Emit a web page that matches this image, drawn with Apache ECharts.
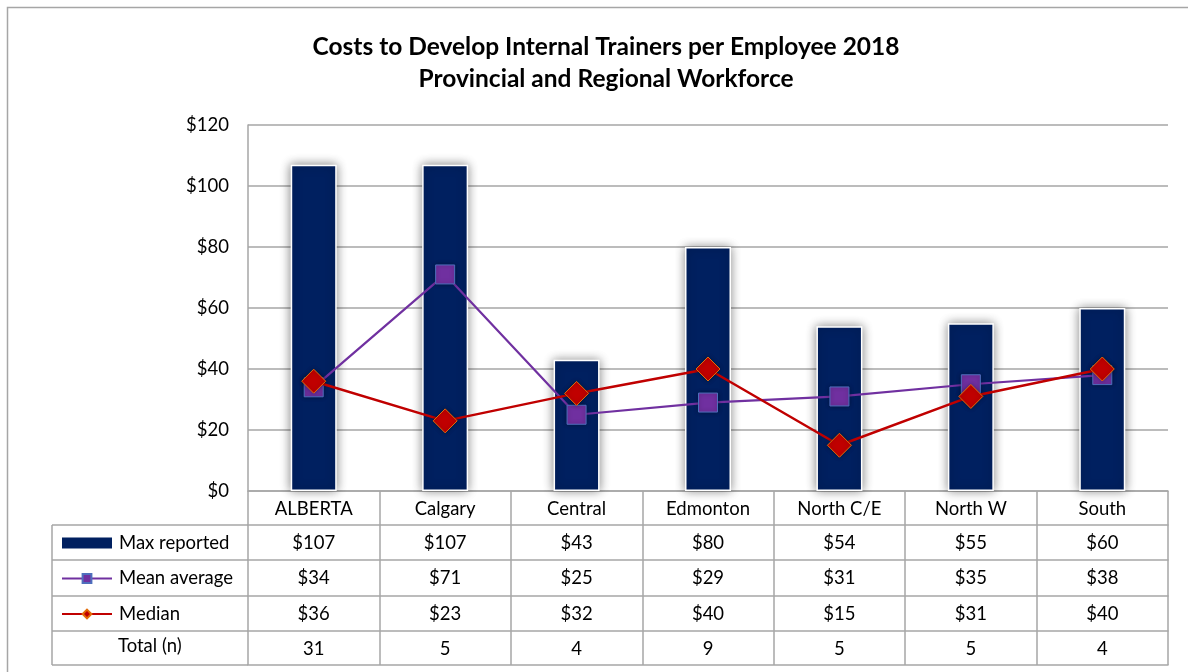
<!DOCTYPE html>
<html>
<head>
<meta charset="utf-8">
<title>Costs to Develop Internal Trainers per Employee 2018</title>
<script src="https://cdn.jsdelivr.net/npm/echarts@6/dist/echarts.min.js"></script>
<style>
    html, body { margin: 0; padding: 0; background: #fff; }
    #chart { width: 1188px; height: 672px; }
</style>
</head>
<body>
<div id="chart"></div>
<script>
// 数据
const regions = ['ALBERTA', 'Calgary', 'Central', 'Edmonton', 'North C/E', 'North W', 'South'];
const maxReported = [107, 107, 43, 80, 54, 55, 60];
const meanAverage = [34, 71, 25, 29, 31, 35, 38];
const median = [36, 23, 32, 40, 15, 31, 40];
const totalN = [31, 5, 4, 9, 5, 5, 4];
const yTicks = { min: 0, max: 120, interval: 20 };

const FONT = 'Lato, "Open Sans", sans-serif';
const FS = 18.5;
const LINE_GRAY = '#a6a6a6';
const TEXT = '#000';

// 表格行: 每行一个 x 轴, 用 offset 叠在图表下方
function tableAxis(offset, rowHeight, formatter, showLabel) {
    return {
        type: 'category',
        data: regions,
        position: 'bottom',
        offset: offset,
        axisLine: { show: true, lineStyle: { color: LINE_GRAY, width: 1.5 } },
        axisTick: { show: rowHeight > 0, length: rowHeight, lineStyle: { color: LINE_GRAY, width: 1.5 } },
        axisLabel: {
            show: showLabel,
            interval: 0,
            margin: 9,
            fontFamily: FONT,
            fontSize: FS,
            color: TEXT,
            formatter: formatter
        },
        splitLine: { show: false }
    };
}

const chart = echarts.init(document.getElementById('chart'));

// 左侧图例列的表格线
const rowTops = [525, 560, 596, 631, 665];
const tableLines = rowTops.map(function (y) {
    return { type: 'line', shape: { x1: 52, y1: y, x2: 248, y2: y }, style: { stroke: LINE_GRAY, lineWidth: 1.5 } };
});
tableLines.push({ type: 'line', shape: { x1: 52, y1: 525, x2: 52, y2: 665 }, style: { stroke: LINE_GRAY, lineWidth: 1.5 } });

const option = {
    backgroundColor: '#fff',
    animation: false,
    title: {
        text: 'Costs to Develop Internal Trainers per Employee 2018\nProvincial and Regional Workforce',
        left: 601,
        textAlign: 'center',
        top: 26,
        textStyle: { fontFamily: FONT, fontSize: 24.5, fontWeight: 'bold', color: TEXT, lineHeight: 32 }
    },
    legend: {
        orient: 'vertical',
        left: 61,
        top: 533,
        padding: 0,
        itemWidth: 50,
        itemHeight: 11,
        itemGap: 15.5,
        selectedMode: false,
        textStyle: { fontFamily: FONT, fontSize: FS, color: TEXT, lineHeight: 20, padding: [0, 0, 0, 2] },
        data: [
            { name: 'Max reported', icon: 'rect', itemStyle: { borderWidth: 0, shadowBlur: 0 } },
            { name: 'Mean average' },
            { name: 'Median' }
        ]
    },
    grid: { left: 248, right: 20, top: 125, bottom: 181 },
    xAxis: [
        tableAxis(0, 34, null, true),
        tableAxis(34, 35, function (v, i) { return '$' + maxReported[i]; }, true),
        tableAxis(69, 36, function (v, i) { return '$' + meanAverage[i]; }, true),
        tableAxis(105, 35, function (v, i) { return '$' + median[i]; }, true),
        tableAxis(140, 34, function (v, i) { return String(totalN[i]); }, true),
        tableAxis(174, 0, null, false)
    ],
    yAxis: {
        type: 'value',
        min: yTicks.min,
        max: yTicks.max,
        interval: yTicks.interval,
        axisLine: { show: true, lineStyle: { color: LINE_GRAY, width: 1.5 } },
        axisTick: { show: false },
        axisLabel: {
            margin: 19,
            fontFamily: FONT,
            fontSize: FS,
            color: TEXT,
            formatter: function (v) { return '$' + v; }
        },
        splitLine: { lineStyle: { color: LINE_GRAY, width: 1.5 } }
    },
    series: [
        {
            name: 'Max reported',
            type: 'bar',
            data: maxReported,
            barWidth: 46,
            itemStyle: {
                color: '#002060',
                borderColor: '#fff',
                borderWidth: 1.5,
                shadowColor: 'rgba(0,0,0,0.45)',
                shadowBlur: 10
            },
            z: 2
        },
        {
            name: 'Mean average',
            type: 'line',
            data: meanAverage,
            symbol: 'rect',
            symbolSize: 19,
            lineStyle: { color: '#7030a0', width: 2.2 },
            itemStyle: {
                color: '#7030a0',
                borderColor: '#4f6fbd',
                borderWidth: 1,
                shadowColor: 'rgba(0,0,0,0.35)',
                shadowBlur: 4
            },
            z: 3
        },
        {
            name: 'Median',
            type: 'line',
            data: median,
            symbol: 'diamond',
            symbolSize: 24,
            lineStyle: { color: '#c00000', width: 2.5 },
            itemStyle: {
                color: '#c00000',
                borderColor: '#e36c09',
                borderWidth: 1,
                shadowColor: 'rgba(0,0,0,0.35)',
                shadowBlur: 4
            },
            z: 4
        }
    ],
    graphic: [
        {
            type: 'rect',
            shape: { x: 7.5, y: 7.5, width: 1200, height: 700 },
            style: { fill: 'none', stroke: '#a6a6a6', lineWidth: 1.5 },
            silent: true
        },
        {
            type: 'text',
            left: 118,
            top: 637,
            style: { text: 'Total (n)', font: FS + 'px ' + FONT, fill: TEXT }
        }
    ].concat(tableLines)
};

chart.setOption(option);

window.addEventListener('resize', function () {
    chart.resize();
});
</script>
</body>
</html>
